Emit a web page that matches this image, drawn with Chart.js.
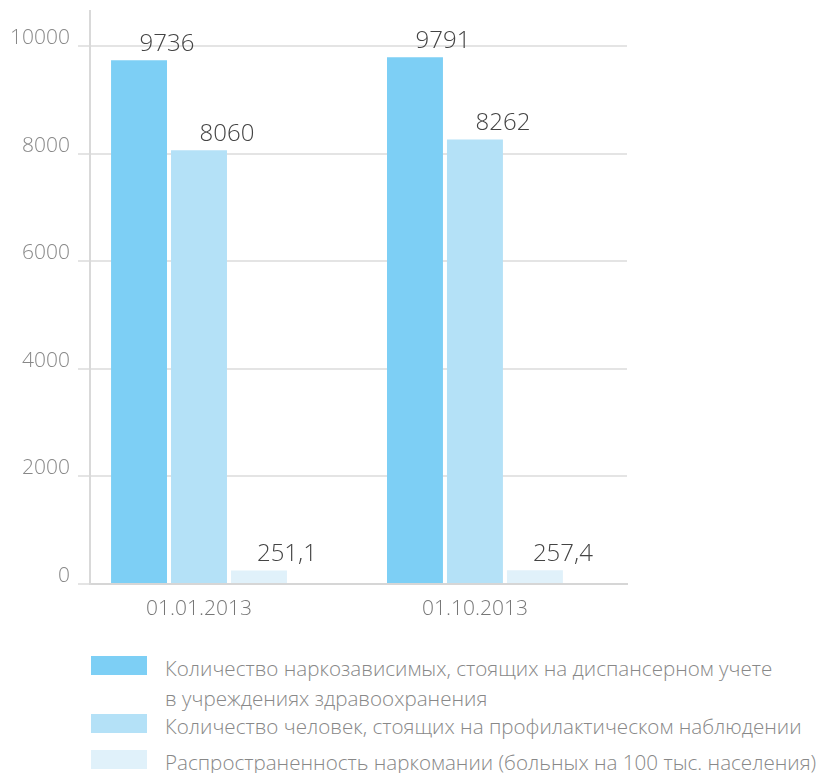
<!DOCTYPE html>
<html>
<head>
<meta charset="utf-8">
<script src="https://cdn.jsdelivr.net/npm/chart.js@4.4.0/dist/chart.umd.min.js"></script>
<style>
  body { margin: 0; background: #fff; font-family: 'Open Sans', sans-serif; }
  #wrap { position: relative; width: 821px; height: 773px; }
  #chart { position: absolute; left: 0; top: 0; }
  #legend { position: absolute; left: 91px; top: 653px; color: #888; font-size: 20.6px; font-weight: 300; line-height: 30px; white-space: nowrap; }
  .item { display: flex; align-items: flex-start; }
  .item .box { width: 56px; height: 19px; margin-right: 18px; margin-top: 3px; flex: none; }
  .item:nth-child(2) { margin-top: -2px; }
  .item:nth-child(3) { margin-top: 6px; }
</style>
</head>
<body>
<div id="wrap">
  <canvas id="chart" width="821" height="640"></canvas>
  <div id="legend"></div>
</div>
<script>
// Данные
const categories = ['01.01.2013', '01.10.2013'];
const seriesNames = [
    ['Количество наркозависимых, стоящих на диспансерном учете', 'в учреждениях здравоохранения'],
    ['Количество человек, стоящих на профилактическом наблюдении'],
    ['Распространенность наркомании (больных на 100 тыс. населения)']
];
const dispensary = [9736, 9791];
const prevention = [8060, 8262];
const prevalence = [251.1, 257.4];
const yTicks = [0, 2000, 4000, 6000, 8000, 10000];
const colors = ['#7dcff5', '#b4e1f7', '#e0f1fa'];

const series = [dispensary, prevention, prevalence];

// Подписи значений над столбцами
const valueLabels = {
    id: 'valueLabels',
    afterDatasetsDraw(chart) {
        const ctx = chart.ctx;
        ctx.save();
        ctx.font = '300 24px "Open Sans"';
        ctx.fillStyle = '#444';
        ctx.textAlign = 'center';
        ctx.textBaseline = 'alphabetic';
        chart.data.datasets.forEach((ds, i) => {
            chart.getDatasetMeta(i).data.forEach((bar, j) => {
                const txt = String(ds.data[j].y).replace('.', ',');
                ctx.fillText(txt, bar.x + bar.width / 2, bar.y - 9);
            });
        });
        ctx.restore();
    }
};

const ctx = document.getElementById('chart').getContext('2d');
const chart = new Chart(ctx, {
    type: 'bar',
    data: {
        datasets: series.map((vals, i) => ({
            label: seriesNames[i].join(' '),
            data: vals.map((v, j) => ({ x: j, y: v })),
            backgroundColor: colors[i],
            borderWidth: 0,
            categoryPercentage: 0.652,
            barPercentage: 0.933
        }))
    },
    options: {
        responsive: false,
        animation: false,
        layout: { padding: { top: 11, right: 194, left: 0, bottom: 0 } },
        plugins: {
            legend: { display: false },
            tooltip: { enabled: false }
        },
        scales: {
            x: {
                type: 'linear',
                min: -0.395,
                max: 1.551,
                offset: false,
                afterBuildTicks: (scale) => { scale.ticks = categories.map((c, i) => ({ value: i })); },
                afterFit: (scale) => { scale.height = 56; },
                grid: { offset: false, drawOnChartArea: false, drawTicks: false },
                border: { display: true, color: '#d6d6d6', width: 2 },
                ticks: {
                    callback: (v) => categories[v],
                    color: '#777',
                    padding: 12,
                    maxRotation: 0,
                    font: { family: 'Open Sans', size: 21, weight: 300 }
                }
            },
            y: {
                min: 0,
                max: 10650,
                afterBuildTicks: (scale) => { scale.ticks = yTicks.map(v => ({ value: v })); },
                afterFit: (scale) => {
                    scale.width = 90;
                    scale.paddingTop = 0;
                    scale.paddingBottom = 0;
                },
                grid: { color: '#e4e4e4', lineWidth: 2, tickLength: 12 },
                border: { display: true, color: '#d9d9d9', width: 2 },
                ticks: {
                    callback: (v) => String(v),
                    color: '#888',
                    padding: 8,
                    labelOffset: -8,
                    font: { family: 'Open Sans', size: 21, weight: 300 }
                }
            }
        }
    },
    plugins: [valueLabels]
});

// Легенда
const legend = document.getElementById('legend');
seriesNames.forEach((name, i) => {
    const item = document.createElement('div');
    item.className = 'item';
    item.innerHTML = '<span class="box" style="background:' + colors[i] + '"></span><span>' + name.join('<br>') + '</span>';
    legend.appendChild(item);
});
</script>
</body>
</html>
